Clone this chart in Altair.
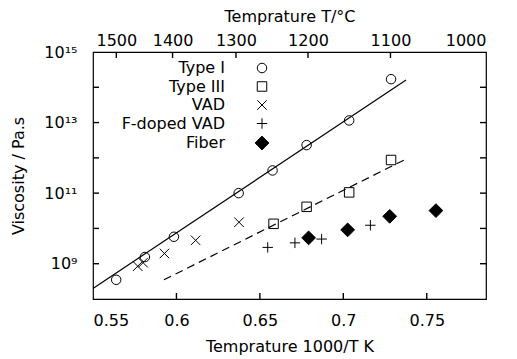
import altair as alt
import pandas as pd

series_names = ["Type I", "Type III", "VAD", "F-doped VAD", "Fiber"]

type1_x = [0.5639, 0.5811, 0.5985, 0.6373, 0.6576, 0.6780, 0.7035, 0.7286]
type1_y = [3.5e8, 1.55e9, 5.8e9, 1.0e11, 4.4e11, 2.3e12, 1.15e13, 1.7e14]
type3_x = [0.6582, 0.6780, 0.7035, 0.7286]
type3_y = [1.35e10, 4.1e10, 1.05e11, 8.7e11]
vad_x = [0.5768, 0.5800, 0.5928, 0.6115, 0.6375]
vad_y = [8.5e8, 1.07e9, 1.95e9, 4.6e9, 1.5e10]
fvad_x = [0.6547, 0.6710, 0.6870, 0.7162]
fvad_y = [2.9e9, 3.9e9, 5.0e9, 1.23e10]
fiber_x = [0.6792, 0.7026, 0.7278, 0.7555]
fiber_y = [5.4e9, 9.1e9, 2.2e10, 3.2e10]

fit1_x = [0.55, 0.7376]
fit1_y = [2.0e8, 1.6e14]
fit3_x = [0.5925, 0.7373]
fit3_y = [3.5e8, 9.1e11]

x_ticks = [0.55, 0.6, 0.65, 0.7, 0.75]
celsius_ticks = [1500, 1400, 1300, 1200, 1100, 1000]
y_label_ticks = [1e9, 1e11, 1e13, 1e15]
y_label_text = ["10⁹", "10¹¹", "10¹³", "10¹⁵"]
y_decades = [1e9, 1e10, 1e11, 1e12, 1e13, 1e14]

W, H, TICK = 393, 247, 6

rows = []
for name, xs, ys in [
    ("Type I", type1_x, type1_y),
    ("Type III", type3_x, type3_y),
    ("VAD", vad_x, vad_y),
    ("F-doped VAD", fvad_x, fvad_y),
    ("Fiber", fiber_x, fiber_y),
]:
    for a, b in zip(xs, ys):
        rows.append({"series": name, "x": a, "y": b})
df = pd.DataFrame(rows)
fit1 = pd.DataFrame({"x": fit1_x, "y": fit1_y})
fit3 = pd.DataFrame({"x": fit3_x, "y": fit3_y})

celsius_pos = [1000.0 / (t + 273.15) for t in celsius_ticks]

xscale = alt.Scale(domain=[0.55, 0.7855], nice=False, zero=False)
yscale = alt.Scale(type="log", domain=[1e8, 1e15], nice=False)

shape_paths = [
    "circle",
    "square",
    "M-1,-1L1,1M-1,1L1,-1",
    "M-1.1,0L1.1,0M0,-1.1L0,1.1",
    "M0,-1.45L1.45,0L0,1.45L-1.45,0Z",
]
fills = ["transparent", "transparent", "transparent", "transparent", "black"]
strokes = ["black"] * 5

ylab_expr = " : ".join(
    f"datum.value == {v} ? '{t}'" for v, t in zip(y_label_ticks, y_label_text)
) + " : ''"

legend = alt.Legend(
    orient="none", legendX=161, legendY=8, title=None,
    labelAlign="right", labelOffset={"expr": "-45"}, labelFont="DejaVu Sans",
    labelFontSize=16, labelColor="black", symbolSize=90,
    symbolStrokeWidth=1, rowPadding=2.5,
    padding=0, symbolOpacity=1,
)

points = alt.Chart(df).mark_point(opacity=1, strokeWidth=1, size=90).encode(
    x=alt.X("x:Q", scale=xscale, axis=alt.Axis(
        values=x_ticks, ticks=False, tickSize=0, domain=False, grid=False,
        labelPadding=13, format=".2~f", title="Temprature 1000/T K", titlePadding=10)),
    y=alt.Y("y:Q", scale=yscale, axis=alt.Axis(
        values=y_label_ticks, ticks=False, tickSize=0, domain=False, grid=False,
        labelPadding=16, labelExpr=ylab_expr, title="Viscosity / Pa.s", titlePadding=17)),
    shape=alt.Shape("series:N", scale=alt.Scale(domain=series_names, range=shape_paths), legend=legend),
    fill=alt.Fill("series:N", scale=alt.Scale(domain=series_names, range=fills), legend=legend),
    stroke=alt.Stroke("series:N", scale=alt.Scale(domain=series_names, range=strokes), legend=legend),
)

line1 = alt.Chart(fit1).mark_line(color="black", strokeWidth=1.2).encode(
    x=alt.X("x:Q", scale=xscale, axis=None),
    y=alt.Y("y:Q", scale=yscale, axis=None),
)

line3 = alt.Chart(fit3).mark_line(color="black", strokeWidth=1.2, strokeDash=[8, 5]).encode(
    x=alt.X("x:Q", scale=xscale, axis=alt.Axis(
        orient="top", values=celsius_pos, ticks=False, tickSize=0, domain=False, grid=False,
        labelPadding=4, labelExpr="format(1000/datum.value - 273.15, '.0f')",
        title="Temprature T/°C", titlePadding=8)),
    y=alt.Y("y:Q", scale=yscale, axis=None),
)

# inward tick marks on the frame (tick values through the scales)
bottom_ticks = pd.DataFrame({"v": x_ticks[1:]})
top_ticks = pd.DataFrame({"v": celsius_pos[:-1]})
y_ticks = pd.DataFrame({"v": y_decades})

tick_style = dict(color="black", strokeWidth=1.4, opacity=1)
t_bottom = alt.Chart(bottom_ticks).mark_rule(**tick_style).encode(
    x=alt.X("v:Q", scale=xscale, axis=None), y=alt.value(H), y2=alt.value(H - TICK))
t_top = alt.Chart(top_ticks).mark_rule(**tick_style).encode(
    x=alt.X("v:Q", scale=xscale, axis=None), y=alt.value(0), y2=alt.value(TICK))
t_left = alt.Chart(y_ticks).mark_rule(**tick_style).encode(
    y=alt.Y("v:Q", scale=yscale, axis=None), x=alt.value(0), x2=alt.value(TICK))
t_right = alt.Chart(y_ticks).mark_rule(**tick_style).encode(
    y=alt.Y("v:Q", scale=yscale, axis=None), x=alt.value(W), x2=alt.value(W - TICK))

chart = alt.layer(points, line1, line3, t_bottom, t_top, t_left, t_right).resolve_axis(
    x="independent", y="independent"
).properties(
    width=W, height=H, autosize="none",
    padding={"left": 85, "top": 44, "right": 23, "bottom": 60},
).configure_view(stroke="black", strokeWidth=1.2).configure_axis(
    labelFont="DejaVu Sans", labelFontSize=16, labelColor="black",
    titleFont="DejaVu Sans", titleFontSize=16, titleFontWeight="normal", titleColor="black",
)

chart.save("out.html", embed_options={"renderer": "svg", "actions": False})
